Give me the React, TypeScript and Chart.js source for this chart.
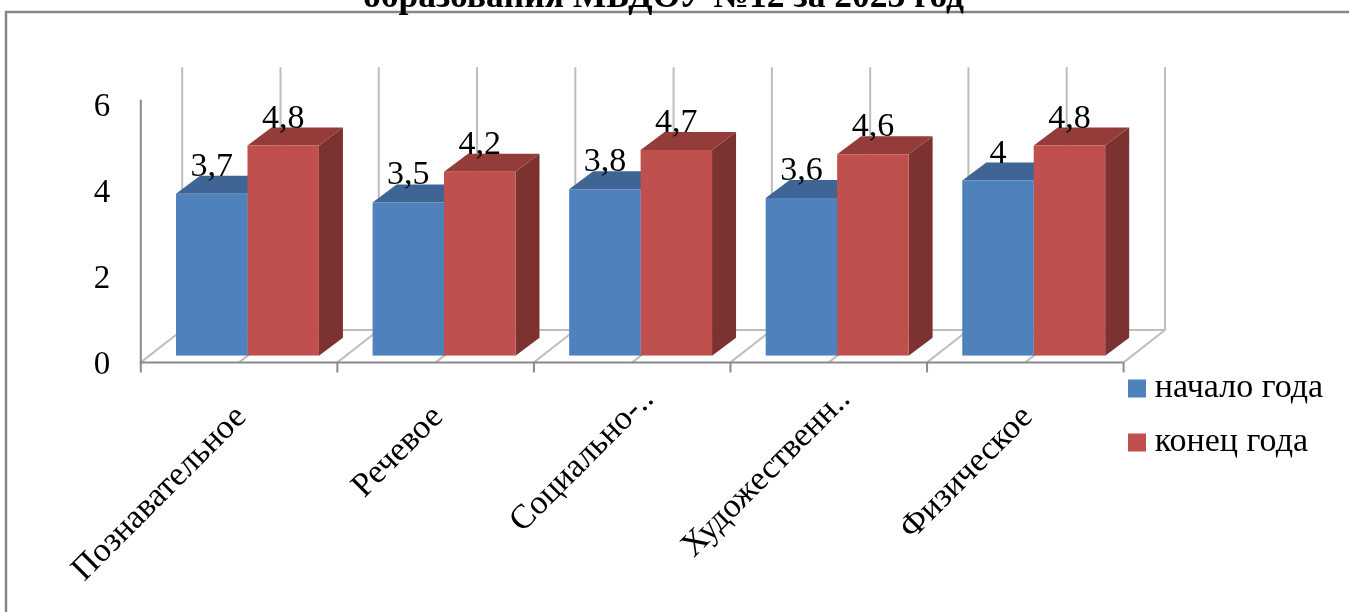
import React, { useEffect, useRef } from "react";
import { Chart, registerables } from "chart.js";

Chart.register(...registerables);

const categories = ["Познавательное", "Речевое", "Социально-..", "Художественн..", "Физическое"];
const startOfYear = [3.7, 3.5, 3.8, 3.6, 4];
const endOfYear = [4.8, 4.2, 4.7, 4.6, 4.8];
const yTicks = [0, 2, 4, 6];
const titleText = "образования МБДОУ №12 за 2023 год";

const SERIF = "'Liberation Serif', serif";
const BLUE = "#4F81BD";
const RED = "#C0504D";
const TOPS = ["#3F6594", "#933C3A"];
const SIDES = ["#37577F", "#7C3230"];

const quad = (ctx: CanvasRenderingContext2D, pts: number[][], fill: string) => {
  ctx.beginPath();
  pts.forEach((p, i) => (i ? ctx.lineTo(p[0], p[1]) : ctx.moveTo(p[0], p[1])));
  ctx.closePath();
  ctx.fillStyle = fill;
  ctx.fill();
};

const line = (ctx: CanvasRenderingContext2D, x1: number, y1: number, x2: number, y2: number, color: string, w = 2) => {
  ctx.beginPath();
  ctx.moveTo(x1, y1);
  ctx.lineTo(x2, y2);
  ctx.strokeStyle = color;
  ctx.lineWidth = w;
  ctx.stroke();
};

const scenePlugin = {
  id: "scene3d",
  beforeDraw(chart: any) {
    const legend = chart.legend;
    legend.left = 1116.25;
    legend.right = 1349;
    legend.top = 351.5;
    legend.bottom = 612;
    const t = chart.titleBlock;
    t.left = -22;
    t.right = 1349;

    const ctx: CanvasRenderingContext2D = chart.ctx;
    const { x, y } = chart.scales;
    const grey = "#8A8A8A";
    const light = "#BEBEBE";

    // truncated labels sit further along their slant in the reference
    x.getLabelItems().forEach((item: any) => {
      if (String(item.label).endsWith("..") && !item.nudged) {
        item.options.translation[0] += 14;
        item.options.translation[1] -= 18;
        item.nudged = true;
      }
    });

    ctx.save();
    // outer frame
    ctx.beginPath();
    ctx.moveTo(6, 612);
    ctx.lineTo(6, 12);
    ctx.lineTo(1349, 12);
    ctx.strokeStyle = "#868686";
    ctx.lineWidth = 2.5;
    ctx.stroke();

    const fx = -8.4, fy = 6.7, bx = 33, by = -25.7;
    const y0 = y.getPixelForValue(0);
    const yTop = y.getPixelForValue(6);
    const n = categories.length;
    const halfStep = (x.getPixelForTick(1) - x.getPixelForTick(0)) / 2;
    const left = x.getPixelForTick(0) - halfStep;
    // back wall half-step grid lines and floor diagonals
    for (let i = 0; i <= n * 2; i++) {
      const px = left + i * halfStep;
      line(ctx, px + bx, yTop + by, px + bx, y0 + by, light);
      line(ctx, px + fx, y0 + fy, px + bx, y0 + by, light);
    }
    line(ctx, left + bx, y0 + by, left + 2 * n * halfStep + bx, y0 + by, light);
    // front axes
    line(ctx, left + fx, yTop + fy, left + fx, y0 + fy + 1, grey);
    line(ctx, left + fx - 1, y0 + fy, left + 2 * n * halfStep + fx, y0 + fy, grey);
    for (let i = 0; i <= n; i++) {
      const px = left + i * 2 * halfStep + fx;
      line(ctx, px, y0 + fy, px, y0 + fy + 10, grey);
    }
    ctx.restore();
  },
  beforeDatasetsDraw(chart: any) {
    const ctx: CanvasRenderingContext2D = chart.ctx;
    const dx = 24, dy = 18;
    ctx.save();
    chart.data.datasets.forEach((_: any, d: number) => {
      chart.getDatasetMeta(d).data.forEach((b: any) => {
        const l = b.x - b.width / 2, r = b.x + b.width / 2;
        quad(ctx, [[r, b.y], [r + dx, b.y - dy], [r + dx, b.base - dy], [r, b.base]], SIDES[d]);
        quad(ctx, [[l, b.y], [l + dx, b.y - dy], [r + dx, b.y - dy], [r, b.y]], TOPS[d]);
      });
    });
    ctx.restore();
  },
  afterDatasetsDraw(chart: any) {
    const ctx: CanvasRenderingContext2D = chart.ctx;
    ctx.save();
    ctx.font = `34px ${SERIF}`;
    ctx.fillStyle = "#000";
    ctx.textAlign = "center";
    ctx.textBaseline = "alphabetic";
    chart.data.datasets.forEach((ds: any, d: number) => {
      chart.getDatasetMeta(d).data.forEach((b: any, i: number) => {
        ctx.fillText(String(ds.data[i]).replace(".", ","), b.x, b.y - 18);
      });
    });
    ctx.restore();
  },
};

export default function App() {
  const ref = useRef<HTMLCanvasElement>(null);
  useEffect(() => {
    const chart = new Chart(ref.current as HTMLCanvasElement, {
      type: "bar",
      data: {
        labels: categories,
        datasets: [
          { label: "начало года", data: startOfYear, backgroundColor: BLUE, borderWidth: 0 },
          { label: "конец года", data: endOfYear, backgroundColor: RED, borderWidth: 0 },
        ],
      },
      plugins: [scenePlugin],
      options: {
        animation: false,
        responsive: false,
        devicePixelRatio: 1,
        layout: { padding: { left: 0, right: 217, top: 0, bottom: 0 } },
        datasets: { bar: { categoryPercentage: 0.727, barPercentage: 1 } },
        plugins: {
          tooltip: { enabled: false },
          title: {
            display: true,
            text: titleText,
            color: "#000",
            font: { family: SERIF, size: 35.5, weight: "bold", lineHeight: 1.2 },
            padding: { top: -23.4, bottom: 73.8 },
          },
          legend: {
            position: "chartArea",
            align: "start",
            labels: {
              color: "#000",
              font: { family: SERIF, size: 34 },
              boxWidth: 1.5,
              boxHeight: 1.5,
              padding: 20,
              generateLabels: (chart: any) =>
                chart.data.datasets.map((ds: any, i: number) => ({
                  text: ds.label,
                  fillStyle: ds.backgroundColor,
                  strokeStyle: ds.backgroundColor,
                  lineWidth: 16.5,
                  datasetIndex: i,
                  fontColor: "#000",
                })),
            },
          },
        } as any,
        scales: {
          x: {
            grid: { display: false },
            border: { display: false },
            afterFit: (s: any) => { s.height = 256.3; },
            ticks: {
              autoSkip: false,
              minRotation: 45,
              maxRotation: 45,
              align: "end",
              padding: 34,
              labelOffset: -6,
              color: "#000",
              font: { family: SERIF, size: 34 },
            },
          } as any,
          y: { display: false, min: 0, max: 6 },
          yLabels: {
            position: "left",
            min: 0,
            max: 6.109,
            grid: { display: false },
            border: { display: false },
            afterBuildTicks: (s: any) => { s.ticks = yTicks.map((value) => ({ value })); },
            afterFit: (s: any) => { s.width = 149.2; },
            ticks: {
              padding: 31,
              labelOffset: 9.8,
              color: "#000",
              font: { family: SERIF, size: 33 },
            },
          } as any,
        },
      },
    } as any);
    return () => chart.destroy();
  }, []);
  return (
    <canvas
      ref={ref}
      width={1349}
      height={612}
      style={{ position: "fixed", left: 0, top: 0, width: 1349, height: 612, display: "block", background: "#fff" }}
    />
  );
}
